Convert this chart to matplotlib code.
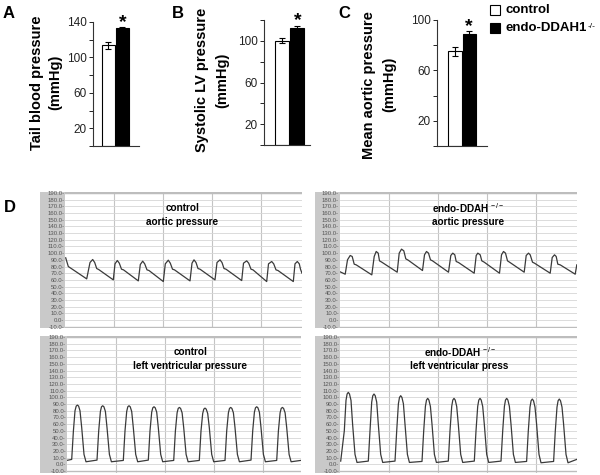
import matplotlib
matplotlib.use("Agg")
import matplotlib.pyplot as plt
from matplotlib.patches import Rectangle

plt.rcParams.update({
    "font.family": "Liberation Sans",
    "mathtext.fontset": "custom",
    "mathtext.rm": "Liberation Sans",
    "mathtext.bf": "Liberation Sans:bold",
})
W, H = 600, 475                      # canvas in px, layout below is in px too

# ---- panels A-C: group means and SEM (mmHg)
groups = ["control", "endo-DDAH1"]
group_sup = ["", "-/-"]
tail_bp = [113.5, 133]
tail_err = [3.5, 1.5]
lv_sys = [100, 112]
lv_err = [2.5, 2]
mean_ao = [75, 89]
mean_ao_err = [3.5, 2]

# ---- panel D: pressure traces (time in arbitrary units, mmHg)
ao_ctrl_t = [0.7, 3.3, 21.7, 25, 27.7, 29.7, 31.7, 33.7,
             48.3, 50, 52.3, 54.3, 56.5, 58.5,
             73.3, 75.3, 77.7, 79.7, 82, 84,
             98.3, 100.3, 103.3, 105.3, 107.5, 109.5,
             125, 127, 129, 131, 133, 135,
             150, 152, 155, 157, 159, 161,
             176.7, 178.5, 181.7, 183.7, 186, 188,
             201.7, 203.5, 206.7, 208.7, 211, 213,
             228.3, 230, 232.3, 234.3, 235.5, 237]
ao_ctrl_p = [93, 80, 61.5, 86, 90.5, 86, 77, 75.5,
             60, 84, 89, 85, 76, 75,
             58.5, 83, 88, 84, 75, 74,
             57.5, 84, 89.5, 85, 76, 75,
             58.5, 85, 90, 86, 77, 76,
             60, 86, 90, 86, 77, 76,
             59, 85, 88.5, 85, 76, 75,
             57.5, 84, 87.5, 84, 75, 74,
             57.5, 84, 87.5, 84, 76, 70]

ao_endo_t = [0, 5.7, 8, 10.7, 12.7, 14.7, 16.7,
             32.3, 34.7, 36.7, 38.7, 40, 42.3,
             57.7, 59.7, 62, 64.3, 66.3, 68.7,
             83, 85, 87, 89, 91, 93,
             109, 111.3, 113.3, 115.3, 116.7, 119,
             134.7, 136.7, 138.3, 140.7, 142.3, 144.7,
             160, 162, 164, 166, 168, 170,
             184.7, 186.7, 189, 190.7, 193, 195,
             210.7, 212.7, 215, 216.7, 218.3, 220.7,
             235.7, 237.3]
ao_endo_p = [72.5, 68.5, 90, 96.5, 95, 83.5, 82.5,
             67.5, 95, 102.5, 100, 88.5, 86.5,
             71.5, 100, 106, 103.5, 91.5, 89.5,
             74, 97.5, 102.5, 100, 90, 88.5,
             71.5, 96.5, 100, 97.5, 87.5, 86,
             70, 96.5, 100, 97.5, 88.5, 86.5,
             70, 97.5, 102.5, 100, 88.5, 86.5,
             71.5, 96.5, 100, 97.5, 86.5, 85,
             70, 93.5, 97.5, 95, 83.5, 82.5,
             68.5, 82.5]

lv_ctrl_t = [0, 5, 6.7, 8.3, 9.5, 10.7, 11.9, 13.3, 15, 17.3, 19.3,
             30.3, 32, 33.7, 34.8, 36, 37.2, 38.7, 40.3, 42.7, 44.7,
             56.6, 58.3, 60, 61.1, 62.3, 63.5, 65, 66.6, 69, 71,
             81.6, 83.3, 85, 86.1, 87.3, 88.5, 90, 91.6, 94, 96,
             107, 108.7, 110.4, 111.5, 112.7, 113.9, 115.4, 117, 119.4, 121.4,
             132.6, 134.3, 136, 137.1, 138.3, 139.5, 141, 142.6, 145, 147,
             158.3, 160, 161.7, 162.8, 164, 165.2, 166.7, 168.3, 170.7, 172.7,
             184.3, 186, 187.7, 188.8, 190, 191.2, 192.7, 194.3, 196.7, 198.7,
             210, 211.7, 213.4, 214.5, 215.7, 216.9, 218.4, 220, 222.4, 224.4,
             234]
lv_ctrl_p = [6, 7.5, 50, 80, 87, 88.5, 87, 80, 55, 15, 4,
             6.5, 50, 79, 86, 87.5, 86, 79, 55, 15, 4,
             6, 50, 79, 86, 87.5, 86, 79, 55, 15, 4,
             6.5, 50, 78, 84.5, 86, 84.5, 78, 55, 15, 4,
             6, 50, 77, 83.5, 85, 83.5, 77, 55, 15, 4,
             6, 50, 76, 82.5, 84, 82.5, 76, 55, 15, 4,
             6, 50, 77, 83.5, 85, 83.5, 77, 55, 15, 4,
             6.5, 50, 78, 84.5, 86, 84.5, 78, 55, 15, 4,
             6, 50, 77, 83.5, 85, 83.5, 77, 55, 15, 4,
             6]

lv_endo_t = [0.7, 4.3, 6, 7.1, 8.3, 9.5, 11, 12.6, 15, 17,
             28.3, 30, 31.7, 32.8, 34, 35.2, 36.7, 38.3, 40.7, 42.7,
             55, 56.7, 58.4, 59.5, 60.7, 61.9, 63.4, 65, 67.4, 69.4,
             82, 83.7, 85.4, 86.5, 87.7, 88.9, 90.4, 92, 94.4, 96.4,
             108.3, 110, 111.7, 112.8, 114, 115.2, 116.7, 118.3, 120.7, 122.7,
             134.3, 136, 137.7, 138.8, 140, 141.2, 142.7, 144.3, 146.7, 148.7,
             161, 162.7, 164.4, 165.5, 166.7, 167.9, 169.4, 171, 173.4, 175.4,
             186.6, 188.3, 190, 191.1, 192.3, 193.5, 195, 196.6, 199, 201,
             213.6, 215.3, 217, 218.1, 219.3, 220.5, 222, 223.6, 226, 228,
             236.7]
lv_endo_p = [5, 50, 95.5, 105, 107.5, 105, 95.5, 60, 15, 3,
             5, 50, 93, 102.5, 105, 102.5, 93, 60, 15, 3,
             5, 50, 90.5, 100, 102.5, 100, 90.5, 60, 15, 3,
             4.5, 50, 86.5, 96, 98.5, 96, 86.5, 60, 15, 3,
             5, 50, 86.5, 96, 98.5, 96, 86.5, 60, 15, 3,
             5, 50, 86.5, 96, 98.5, 96, 86.5, 60, 15, 3,
             5, 50, 86.5, 96, 98.5, 96, 86.5, 60, 15, 3,
             4.5, 50, 85.5, 95, 97.5, 95, 85.5, 60, 15, 2.5,
             4.5, 50, 85.5, 95, 97.5, 95, 85.5, 60, 15, 2.5,
             7.5]

fig = plt.figure(figsize=(W / 100, H / 100), dpi=100)


def px_axes(l, t, r, b):
    return fig.add_axes([l / W, 1 - b / H, (r - l) / W, (b - t) / H])


def ftext(x, y, s, **kw):
    return fig.text(x / W, 1 - y / H, s, **kw)


def bar_panel(box, xlim, top, labelled, vals, errs):
    ax = px_axes(*box)
    ax.bar([0, 1], vals, width=0.95, color=["white", "black"], edgecolor="black",
           lw=0.8, yerr=errs, capsize=2,
           error_kw=dict(lw=0.8, capthick=0.8, ecolor="black"))
    ax.set_xlim(xlim)
    ax.set_ylim(0, top)
    ticks = list(range(0, top + 1, 20))
    ax.set_yticks(ticks)
    ax.set_yticklabels([str(v) if v in labelled else "" for v in ticks])
    ax.set_xticks([])
    ax.tick_params(axis="y", length=3, width=0.6, pad=1.5, labelsize=8.5,
                   labelcolor="#222")
    for s in ("top", "right"):
        ax.spines[s].set_visible(False)
    for s in ("left", "bottom"):
        ax.spines[s].set_linewidth(0.8)
        ax.spines[s].set_color("#333")
    return ax


bar_panel((93, 22, 139, 146), (-1.107, 2.18), 140, (20, 60, 100, 140), tail_bp, tail_err)
bar_panel((264, 20, 310, 145), (-1.2, 1.87), 120, (20, 60, 100), lv_sys, lv_err)
bar_panel((437, 20, 487, 146), (-1.24, 2.21), 100, (20, 60, 100), mean_ao, mean_ao_err)

lab = dict(fontsize=10.5, fontweight="bold", rotation=90, ha="center", va="center")
ftext(37, 83, "Tail blood pressure", **lab)
ftext(55, 82, "(mmHg)", **lab)
ftext(202, 80, "Systolic LV pressure", **lab)
ftext(222, 80, "(mmHg)", **lab)
ftext(369, 85, "Mean aortic pressure", **lab)
ftext(389, 84, "(mmHg)", **lab)

for x, y in [(122.5, 27), (297.5, 25), (469, 31.5)]:
    ftext(x, y, "*", fontsize=14, fontweight="bold", ha="center", va="baseline")

pl = dict(fontsize=12, fontweight="bold", ha="center", va="center")
for x, y, s in [(9, 13, "A"), (178, 13, "B"), (344, 13, "C"), (10, 207, "D")]:
    ftext(x, y, s, **pl)

# legend
for y, fc, s, sup in [(10, "white", groups[0], group_sup[0]),
                      (28, "black", groups[1], group_sup[1])]:
    fig.patches.append(Rectangle((490 / W, 1 - (y + 5) / H), 10 / W, 10 / H,
                                 transform=fig.transFigure, fc=fc, ec="black", lw=0.8))
    t = ftext(506, y, s, fontsize=9.5, fontweight="bold", ha="left", va="center")
    if sup:
        fig.add_artist(matplotlib.text.Annotation(
            sup, xy=(1, 0.95), xycoords=t, xytext=(0.5, 0), textcoords="offset points",
            fontsize=6, ha="left", va="top"))

VGRID = [49, 98, 147, 196]


def trace_panel(box, strip, t, p, title, tx):
    l, top, r, b = box
    ax = px_axes(*box)
    width = r - l
    ax.set_xlim(0, width)
    ax.set_ylim(-12, 191.5)
    ax.plot(t, p, color="#3a3a3a", lw=0.9, zorder=3)
    yt = list(range(-10, 200, 10))
    ax.set_yticks(yt)
    ax.set_yticklabels([f"{v:.1f}-" for v in yt])
    ax.tick_params(axis="y", length=0, pad=0.5, labelsize=4.3, labelcolor="#555")
    ax.set_xticks(VGRID)
    ax.tick_params(axis="x", length=0, labelbottom=False)
    ax.yaxis.grid(True, color="#d6d6d6", lw=0.6)
    ax.xaxis.grid(True, color="#c4c4c4", lw=0.8)
    ax.set_axisbelow(True)
    for s in ax.spines.values():
        s.set_visible(False)
    sw = strip / width
    ax.add_patch(Rectangle((-sw, 0), sw, 1, transform=ax.transAxes, clip_on=False,
                           fc="#c9c9c9", ec="none", zorder=0))
    ax.axhline(190.8, color="#bdbdbd", lw=2.5, zorder=2)
    ax.axhline(-10, color="#bdbdbd", lw=1.0, zorder=2)
    ax.text(tx, 0.88, title[0], transform=ax.transAxes, ha="center", va="center",
            fontsize=7.2, fontweight="bold")
    ax.text(tx, 0.78, title[1], transform=ax.transAxes, ha="center", va="center",
            fontsize=7.2, fontweight="bold")


trace_panel((65, 192, 302, 328), 25, ao_ctrl_t, ao_ctrl_p,
            ("control", "aortic pressure"), 0.494)
trace_panel((339.5, 192, 577, 328), 24.5, ao_endo_t, ao_endo_p,
            (r"endo-DDAH $^{-/-}$", "aortic pressure"), 0.541)
trace_panel((66.7, 336, 301, 472.5), 26.7, lv_ctrl_t, lv_ctrl_p,
            ("control", "left ventricular pressure"), 0.527)
trace_panel((340, 336, 577, 472.5), 25, lv_endo_t, lv_endo_p,
            (r"endo-DDAH $^{-/-}$", "left ventricular press"), 0.505)

fig.savefig("out.png", dpi=100)
